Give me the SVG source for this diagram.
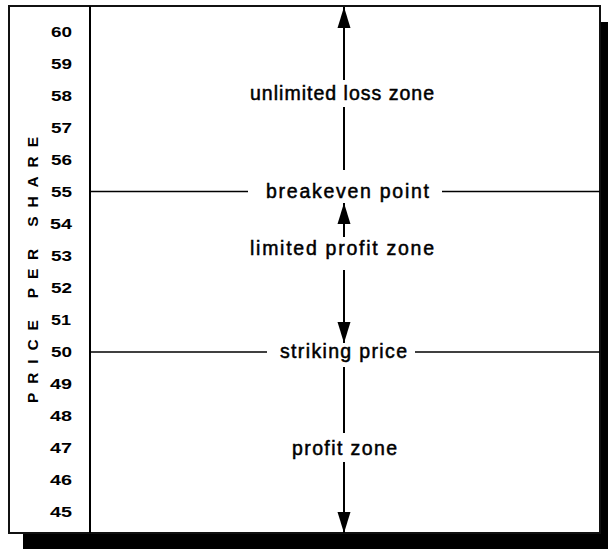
<svg xmlns="http://www.w3.org/2000/svg" width="608" height="549" viewBox="0 0 608 549">
<style>
.num{font-family:"Liberation Sans",Arial,sans-serif;font-size:15px;font-weight:bold;fill:#000}
.lbl{font-family:"Liberation Sans",Arial,sans-serif;font-size:19.5px;fill:#000;stroke:#000;stroke-width:0.5}
.ax{font-family:"Liberation Sans",Arial,sans-serif;font-size:15.5px;font-weight:bold;fill:#000}
.ln{stroke:#000;stroke-width:1.6;fill:none}
.arr{stroke:#000;stroke-width:2;fill:none}
</style>
<defs>
<marker id="ah" viewBox="-22 -7 23 14" refX="0" refY="0" markerWidth="23" markerHeight="14" markerUnits="userSpaceOnUse" orient="auto">
<path d="M0,0 L-21,-6.5 L-21,6.5 Z" fill="#000"/>
</marker>
</defs>
<g id="frame">
<rect x="23" y="22" width="585" height="527" fill="#000"/>
<rect x="9" y="6" width="591" height="527" fill="#fff" stroke="#111" stroke-width="2"/>
<line x1="90" y1="6" x2="90" y2="533" stroke="#000" stroke-width="2"/>
</g>
<g id="axis">
<text class="ax" transform="translate(37.5,270) rotate(-90)" text-anchor="middle" textLength="266" lengthAdjust="spacing">PRICE PER SHARE</text>
<text class="num" x="51" y="37" textLength="21" lengthAdjust="spacingAndGlyphs">60</text>
<text class="num" x="51" y="69" textLength="21" lengthAdjust="spacingAndGlyphs">59</text>
<text class="num" x="51" y="101" textLength="21" lengthAdjust="spacingAndGlyphs">58</text>
<text class="num" x="51" y="133" textLength="21" lengthAdjust="spacingAndGlyphs">57</text>
<text class="num" x="51" y="165" textLength="21" lengthAdjust="spacingAndGlyphs">56</text>
<text class="num" x="51" y="197" textLength="21" lengthAdjust="spacingAndGlyphs">55</text>
<text class="num" x="50" y="229" textLength="22" lengthAdjust="spacingAndGlyphs">54</text>
<text class="num" x="51" y="261" textLength="21" lengthAdjust="spacingAndGlyphs">53</text>
<text class="num" x="51" y="293" textLength="21" lengthAdjust="spacingAndGlyphs">52</text>
<text class="num" x="51" y="325" textLength="20" lengthAdjust="spacingAndGlyphs">51</text>
<text class="num" x="51" y="357" textLength="21" lengthAdjust="spacingAndGlyphs">50</text>
<text class="num" x="50" y="389" textLength="22" lengthAdjust="spacingAndGlyphs">49</text>
<text class="num" x="50" y="421" textLength="22" lengthAdjust="spacingAndGlyphs">48</text>
<text class="num" x="50" y="453" textLength="22" lengthAdjust="spacingAndGlyphs">47</text>
<text class="num" x="50" y="485" textLength="22" lengthAdjust="spacingAndGlyphs">46</text>
<text class="num" x="50" y="517" textLength="22" lengthAdjust="spacingAndGlyphs">45</text>
</g>
<g id="connectors">
<line class="ln" x1="90" y1="191.5" x2="248" y2="191.5"/>
<line class="ln" x1="442" y1="191.5" x2="600" y2="191.5"/>
<line class="ln" x1="90" y1="352" x2="267" y2="352"/>
<line class="ln" x1="415" y1="352" x2="600" y2="352"/>
<line class="arr" x1="344" y1="80" x2="344" y2="7" marker-end="url(#ah)"/>
<line class="arr" x1="344" y1="107" x2="344" y2="170"/>
<line class="arr" x1="344" y1="237" x2="344" y2="203" marker-end="url(#ah)"/>
<line class="arr" x1="344" y1="270" x2="344" y2="343" marker-end="url(#ah)"/>
<line class="arr" x1="344" y1="367" x2="344" y2="433"/>
<line class="arr" x1="344" y1="462" x2="344" y2="533" marker-end="url(#ah)"/>
</g>
<g id="unlimited-loss-zone"><text class="lbl" x="250" y="100" textLength="184" lengthAdjust="spacing">unlimited loss zone</text></g>
<g id="breakeven-point"><text class="lbl" x="266" y="198" textLength="163" lengthAdjust="spacing">breakeven point</text></g>
<g id="limited-profit-zone"><text class="lbl" x="250" y="255" textLength="184" lengthAdjust="spacing">limited profit zone</text></g>
<g id="striking-price"><text class="lbl" x="280" y="358" textLength="127" lengthAdjust="spacing">striking price</text></g>
<g id="profit-zone"><text class="lbl" x="292" y="455" textLength="105" lengthAdjust="spacing">profit zone</text></g>
</svg>
